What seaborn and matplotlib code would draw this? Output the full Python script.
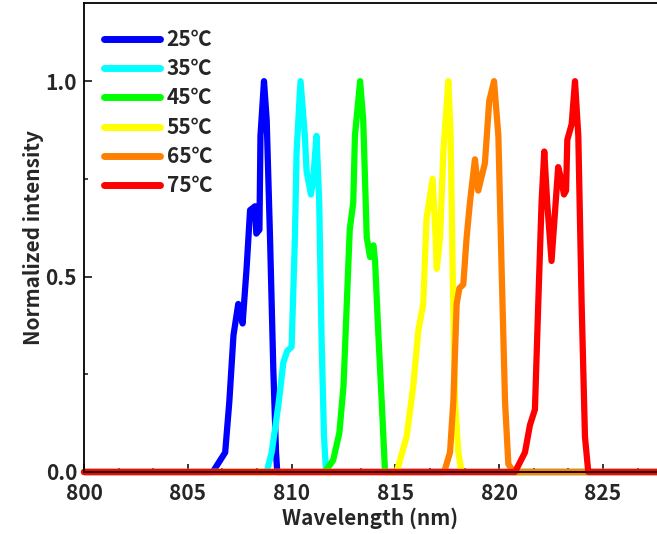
import numpy as np
import pandas as pd
import matplotlib
matplotlib.use("Agg")
import matplotlib.pyplot as plt
from matplotlib.ticker import AutoMinorLocator
import seaborn as sns

# ---- data ----
labels = ["25℃", "35℃", "45℃", "55℃", "65℃", "75℃"]
colors = ["#0000FF", "#00FFFF", "#00FF00", "#FFFF00", "#FF8000", "#FF0000"]

wl_25 = [800, 806.2, 806.8, 807.0, 807.2, 807.43, 807.64, 807.83, 808.0, 808.24, 808.3, 808.45, 808.5, 808.67, 808.8, 808.96, 809.12, 809.25, 809.31, 828]
in_25 = [0, 0, 0.05, 0.18, 0.35, 0.43, 0.38, 0.52, 0.67, 0.68, 0.61, 0.62, 0.86, 1.0, 0.90, 0.60, 0.26, 0.05, 0, 0]

wl_35 = [800, 808.8, 809.04, 809.36, 809.6, 809.79, 810.0, 810.16, 810.24, 810.43, 810.64, 810.72, 810.93, 811.04, 811.2, 811.33, 811.44, 811.56, 811.66, 828]
in_35 = [0, 0, 0.05, 0.17, 0.28, 0.31, 0.32, 0.60, 0.82, 1.0, 0.86, 0.77, 0.71, 0.75, 0.86, 0.69, 0.35, 0.09, 0, 0]

wl_45 = [800, 811.6, 812.0, 812.3, 812.5, 812.65, 812.8, 812.97, 813.05, 813.3, 813.45, 813.62, 813.78, 813.94, 814.02, 814.18, 814.34, 814.5, 828]
in_45 = [0, 0, 0.03, 0.10, 0.22, 0.42, 0.62, 0.69, 0.86, 1.0, 0.90, 0.60, 0.55, 0.58, 0.54, 0.35, 0.18, 0, 0]

wl_55 = [800, 815.06, 815.54, 815.86, 816.1, 816.34, 816.5, 816.79, 816.92, 816.99, 817.15, 817.31, 817.55, 817.66, 817.76, 817.87, 818.03, 818.19, 828]
in_55 = [0, 0, 0.09, 0.22, 0.36, 0.43, 0.65, 0.75, 0.62, 0.52, 0.60, 0.82, 1.0, 0.86, 0.51, 0.18, 0.05, 0, 0]

wl_65 = [800, 817.35, 817.63, 817.79, 817.95, 818.08, 818.27, 818.43, 818.59, 818.83, 818.99, 819.31, 819.52, 819.75, 819.96, 820.12, 820.28, 820.44, 820.7, 828]
in_65 = [0, 0, 0.05, 0.18, 0.43, 0.47, 0.48, 0.60, 0.69, 0.80, 0.72, 0.79, 0.95, 1.0, 0.86, 0.51, 0.18, 0.02, 0, 0]

wl_75 = [800, 820.76, 821.24, 821.48, 821.72, 821.88, 822.04, 822.17, 822.31, 822.52, 822.72, 822.84, 822.98, 823.12, 823.22, 823.28, 823.49, 823.65, 823.81, 823.97, 824.13, 824.29, 828]
in_75 = [0, 0, 0.05, 0.12, 0.16, 0.43, 0.69, 0.82, 0.69, 0.54, 0.69, 0.78, 0.75, 0.71, 0.72, 0.85, 0.89, 1.0, 0.86, 0.43, 0.09, 0, 0]

x_ticks = [800, 805, 810, 815, 820, 825]
y_ticks = [0.0, 0.5, 1.0]

series_wl = [wl_25, wl_35, wl_45, wl_55, wl_65, wl_75]
series_in = [in_25, in_35, in_45, in_55, in_65, in_75]

frames = []
for lab, w, i in zip(labels, series_wl, series_in):
    frames.append(pd.DataFrame({"Wavelength": w, "Intensity": i, "T": lab}))
df = pd.concat(frames, ignore_index=True)

# ---- plotting ----
sns.set_style("ticks")
plt.rcParams["font.family"] = ["Noto Sans CJK SC", "DejaVu Sans"]
plt.rcParams["font.weight"] = "bold"

fig = plt.figure(figsize=(6.57, 5.34), dpi=100)
ax = fig.add_axes([84 / 657, 1 - 472 / 534, 1 - 84 / 657, (472 - 3) / 534])

sns.lineplot(data=df, x="Wavelength", y="Intensity", hue="T", hue_order=labels,
             palette=colors, linewidth=4.5, ax=ax, sort=False, estimator=None,
             solid_joinstyle="round", solid_capstyle="round", clip_on=False)

ax.set_xlim(800, 827.6)
ax.set_ylim(0, 1.2)
ax.set_xticks(x_ticks)
ax.set_yticks(y_ticks)
ax.set_yticklabels([f"{v:.1f}" for v in y_ticks])
ax.xaxis.set_minor_locator(AutoMinorLocator(3))
ax.yaxis.set_minor_locator(AutoMinorLocator(2))
ax.tick_params(axis="x", which="major", pad=8)
ax.tick_params(axis="y", which="major", pad=5)
ax.tick_params(axis="both", which="major", direction="in", length=6, width=1.3,
               labelsize=15)
ax.tick_params(axis="both", which="minor", direction="in", length=3, width=1.2)
for lbl in ax.get_xticklabels() + ax.get_yticklabels():
    lbl.set_fontweight("bold")

ax.spines["right"].set_visible(False)
for s in ["left", "top", "bottom"]:
    ax.spines[s].set_linewidth(1.3)
    ax.spines[s].set_color("black")

ax.set_xlabel("Wavelength (nm)", fontsize=15, fontweight="bold", labelpad=2)
ax.set_ylabel("Normalized intensity", fontsize=15, fontweight="bold", labelpad=1)

leg = ax.legend(loc="upper left", bbox_to_anchor=(0.035, 0.945), frameon=False,
                fontsize=15, handlelength=2.7, handletextpad=0.3,
                labelspacing=0.4, borderpad=0, borderaxespad=0)
for h in leg.get_lines():
    h.set_linewidth(5)
    h.set_solid_capstyle("round")
for t in leg.get_texts():
    t.set_fontweight("bold")

fig.savefig("out.png", dpi=100)
